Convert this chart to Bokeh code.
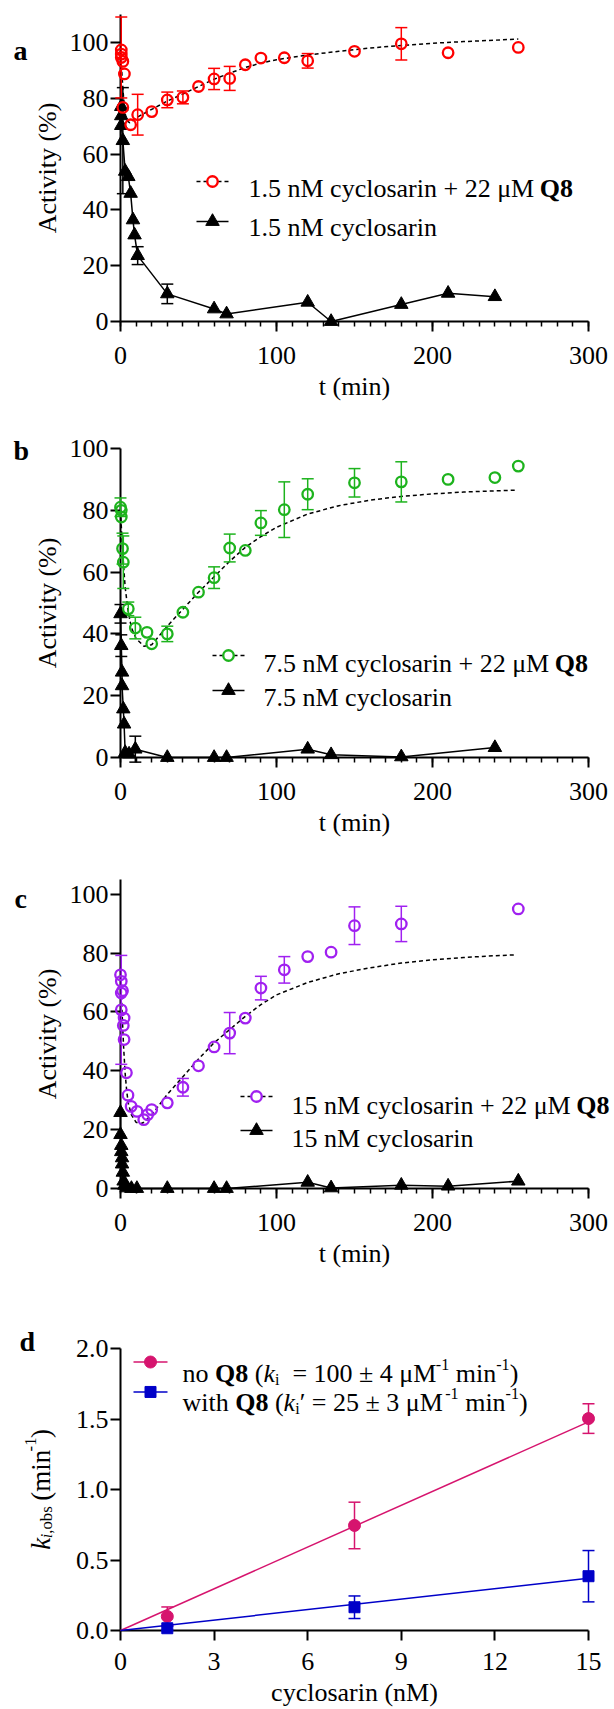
import math
from bokeh.plotting import figure
from bokeh.layouts import column
from bokeh.models import Range1d, FixedTicker, NumeralTickFormatter
from bokeh.core.properties import value
from bokeh.embed import file_html
from bokeh.resources import INLINE

FONT = "Liberation Serif"
RED, GREEN, PURPLE, PINK, BLUE = "#ff0000", "#1db31d", "#a020f0", "#d6146e", "#0000c8"

# ---------------- data: panel a (1.5 nM) ----------------
a_q8_t = [0.5, 0.5, 0.5, 1.5, 2.5, 1.5, 6.5, 11, 20, 30, 40, 50, 60, 70, 80, 90, 105, 120, 150, 180, 210, 255]
a_q8_act = [97.3, 95.8, 94.6, 93.2, 88.7, 76.7, 70.5, 74.1, 75.2, 79.4, 80.3, 84.2, 86.9, 87.1, 92.0, 94.4,
            94.5, 93.4, 96.8, 99.5, 96.3, 98.2]
a_q8_err = [0, 0, 14.5, 0, 0, 0, 0, 7.3, 0, 2.8, 2.3, 0, 3.8, 4.3, 0, 0, 0, 2.6, 0, 5.8, 0, 0]
a_cyc_t = [0.5, 0.5, 0.5, 1.5, 3, 5, 6.5, 8, 9, 11, 30, 60, 68, 120, 135, 180, 210, 240]
a_cyc_act = [77.0, 73.7, 70.2, 64.8, 53.8, 51.9, 45.9, 36.4, 31.0, 23.6, 9.9, 4.5, 2.7, 6.9, 0.0, 6.1, 10.1, 8.9]
a_cyc_err = [0, 0, 0, 19, 0, 0, 0, 0, 0, 3.2, 3.5, 0, 0, 0, 0, 0, 0, 0]
a_fit_t = [0, 1, 2, 3, 4, 6, 10, 20, 30, 40, 50, 60, 70, 80, 90, 100, 120, 140, 160, 180, 200, 220, 240, 255]
a_fit_act = [97, 88, 80, 74.5, 72, 71.2, 73, 76, 79, 81.5, 84.2, 86.8, 89, 91, 92.6, 93.8, 95.5, 96.8, 98,
             98.9, 99.7, 100.3, 100.8, 101.2]

# ---------------- data: panel b (7.5 nM) ----------------
b_q8_t = [0, 0.5, 0.5, 1.3, 1.8, 5, 9.5, 17, 20, 30, 40, 50, 60, 70, 80, 90, 105, 120, 150, 180, 210, 240, 255]
b_q8_act = [81.0, 80.0, 77.8, 67.6, 63.2, 48.1, 41.9, 40.5, 36.8, 40.0, 47.0, 53.5, 58.2, 67.8, 67.0, 75.9,
            80.2, 85.2, 88.9, 89.2, 90.0, 90.6, 94.3]
b_q8_err = [3, 0, 0, 5, 8.5, 2.2, 3.5, 0, 0, 2.5, 0, 0, 3.5, 4.5, 0, 4, 9, 5, 4.6, 6.5, 0, 0, 0]
b_cyc_t = [0, 0.5, 1, 1, 1.8, 2.3, 3, 5.5, 9.5, 30, 60, 68, 120, 135, 180, 240]
b_cyc_act = [46.5, 36.2, 27.6, 23.2, 15.7, 10.8, 1.6, 1.1, 2.7, 0, 0, 0, 2.7, 0.9, 0.2, 3.2]
b_cyc_err = [3, 3.5, 0, 0, 0, 0, 0, 0, 4.2, 0, 0, 0, 0, 0, 0, 0]
b_fit_t = [0, 1, 2, 3, 5, 7, 10, 15, 20, 25, 30, 40, 50, 60, 70, 80, 90, 100, 120, 140, 160, 180, 200, 220, 240, 253]
b_fit_act = [80, 70, 62, 55, 47, 42, 38.5, 36, 36.5, 39.5, 42.5, 48, 53.5, 58.5, 63.5, 68, 71.5, 74.5, 78.8,
             81.5, 83.3, 84.5, 85.3, 85.9, 86.3, 86.5]

# ---------------- data: panel c (15 nM) ----------------
c_q8_t = [0, 0.5, 0.5, 1.3, 0.5, 2.3, 1.8, 2.3, 3.8, 4.8, 6.8, 10.6, 14.9, 17.4, 20, 30, 40, 50, 60, 70, 80,
          90, 105, 120, 135, 150, 180, 255]
c_q8_act = [72.6, 70.4, 66.4, 67.2, 60.7, 57.9, 55.4, 50.6, 39.3, 31.7, 27.9, 26.2, 23.4, 25.1, 26.8, 29.1,
            34.4, 41.7, 48.1, 52.8, 57.9, 68.1, 74.3, 78.8, 80.3, 89.3, 89.9, 95.0]
c_q8_err = [0, 0, 0, 0, 18.5, 0, 0, 0, 0, 0, 0, 0, 0, 0, 0, 0, 3, 0, 0, 7, 0, 4, 4.5, 0, 0, 6.4, 6, 0]
c_cyc_t = [0, 0, 0.5, 0.5, 1, 1, 1.5, 2, 2.5, 4, 7, 10.5, 30, 60, 68, 120, 135, 180, 210, 255]
c_cyc_act = [25.8, 18.3, 14.6, 12.5, 10.4, 8.3, 5.5, 2.5, 1.1, 0.2, 0, 0, 0, 0, 0, 2.1, 0.2, 1.1, 0.8, 2.5]
c_cyc_err = [0] * len(c_cyc_t)
c_fit_t = [0, 1, 2, 3, 4, 5, 7, 10, 13, 15, 20, 25, 30, 40, 50, 60, 70, 80, 90, 100, 120, 140, 160, 180,
           200, 220, 240, 253]
c_fit_act = [75, 60, 48, 39, 33, 29, 25, 22.5, 22, 22.5, 25, 28.5, 32, 38, 44, 49.5, 54, 58.5, 62.5, 65.8,
             70, 73, 75, 76.6, 77.7, 78.5, 79.1, 79.4]

# ---------------- data: panel d ----------------
d_conc = [1.5, 7.5, 15]
d_no_k = [0.10, 0.745, 1.503]
d_no_err = [0.067, 0.165, 0.105]
d_q8_k = [0.016, 0.165, 0.385]
d_q8_err = [0.015, 0.08, 0.182]
d_fit_x = [0, 15]
d_fit_no = [0, 1.48]
d_fit_q8 = [0, 0.37]

# ---------------- text metrics (Times-compatible, per 1000 em) ----------------
REG = {' ': 250, '(': 333, ')': 333, '+': 564, '=': 564, '±': 564, '.': 250, ',': 250, '-': 333,
       '%': 833, '′': 333, 'μ': 500, 'a': 444, 'b': 500, 'c': 444, 'd': 500, 'e': 444, 'h': 500,
       'i': 278, 'l': 278, 'm': 778, 'n': 500, 'o': 500, 'r': 333, 's': 389, 't': 278, 'w': 722,
       'y': 500, 'M': 889, 'k': 500}
BOLD = {'Q': 778, '8': 500}
ITAL = {'k': 444, 'i': 278}
TABLES = {"normal": REG, "bold": BOLD, "italic": ITAL}


def tw(s, style, size):
    tab = TABLES[style]
    return sum(tab.get(ch, REG.get(ch, 500)) for ch in s) * size / 1000.0


def rich_width(pieces, size):
    return sum(tw(t, st, size * (0.62 if lv else 1)) for t, st, lv in pieces)


# ---------------- layout (page pixels) ----------------
W = 614
LEFT, RIGHT = 120, 26
FRAME_W = W - LEFT - RIGHT
CIRC, CIRC_LW, TRI, CAP = 10.5, 2.3, 13.5, 12


def to_data(geo, px, py):
    x0, x1 = geo["xr"]
    y0, y1 = geo["yr"]
    fb = geo["page_top"] + geo["top"] + geo["fh"]
    return (x0 + (px - LEFT) / FRAME_W * (x1 - x0),
            y0 + (fb - py) / geo["fh"] * (y1 - y0))


def put_text(p, geo, px, py, txt, style, size, angle=0):
    x, y = to_data(geo, px, py)
    p.text([x], [y], text=[txt], text_font=value(FONT), text_font_size=value(f"{size:.1f}px"),
           text_font_style=value(style), text_color="black", text_align="left",
           text_baseline="alphabetic", angle=angle, level="overlay")


def rich(p, geo, px, py, pieces, size, rotated=False):
    adv = 0.0
    for txt, style, lvl in pieces:
        fs = size * (0.62 if lvl else 1)
        off = {0: 0.0, -1: 0.22 * size, 1: -0.38 * size}[lvl]
        lead = len(txt) - len(txt.lstrip(" "))
        adv += lead * 0.25 * fs
        core = txt.strip(" ")
        if core:
            if rotated:
                put_text(p, geo, px + off, py - adv, core, style, fs, angle=math.pi / 2)
            else:
                put_text(p, geo, px + adv, py + off, core, style, fs)
            adv += tw(core, style, fs)
        trail = len(txt) - len(txt.rstrip(" "))
        adv += trail * 0.25 * fs
    return adv


def base_fig(geo, xticks, yticks, xminor=None, xlabel="", ylabel=""):
    p = figure(width=W, height=geo["h"], x_range=Range1d(*geo["xr"]), y_range=Range1d(*geo["yr"]),
               min_border_left=LEFT, min_border_right=RIGHT, min_border_top=geo["top"],
               min_border_bottom=geo["h"] - geo["top"] - geo["fh"],
               toolbar_location=None, output_backend="svg", title=None)
    p.outline_line_color = None
    p.grid.visible = False
    p.background_fill_color = "white"
    p.border_fill_color = "white"
    p.xaxis.ticker = FixedTicker(ticks=xticks, minor_ticks=xminor or [])
    p.yaxis.ticker = FixedTicker(ticks=yticks, minor_ticks=[])
    for ax in (p.xaxis[0], p.yaxis[0]):
        ax.axis_line_width = 2
        ax.axis_line_color = "black"
        ax.major_tick_line_width = 2
        ax.major_tick_line_color = "black"
        ax.minor_tick_line_width = 1.5
        ax.minor_tick_line_color = "black"
        ax.major_tick_in = 0
        ax.major_tick_out = 10
        ax.minor_tick_in = 0
        ax.minor_tick_out = 5
        ax.major_label_text_font = FONT
        ax.major_label_text_font_size = "26px"
        ax.major_label_text_color = "black"
        ax.axis_label_text_font = FONT
        ax.axis_label_text_font_size = "26px"
        ax.axis_label_text_font_style = "normal"
        ax.axis_label_text_color = "black"
    p.xaxis.major_label_standoff = 15
    p.yaxis.major_label_standoff = 2
    p.xaxis.axis_label_standoff = 5
    p.yaxis.axis_label_standoff = 5
    if xlabel:
        p.xaxis.axis_label = xlabel
    if ylabel:
        p.yaxis.axis_label = ylabel
    return p


def error_bars(p, geo, xs, ys, errs, color):
    b, u, l = [], [], []
    for xi, yi, ei in zip(xs, ys, errs):
        if ei > 0:
            b.append(xi); u.append(yi + ei); l.append(yi - ei)
    if not b:
        return
    p.segment(x0=b, y0=l, x1=b, y1=u, line_color=color, line_width=1.5, level="overlay")
    p.scatter(b + b, u + l, marker="dash", size=CAP, line_color=color, line_width=1.5, level="overlay")


def panel_letter(p, geo, letter):
    put_text(p, geo, geo["letter"][0], geo["letter"][1], letter, "bold", 28)


def kinetic_panel(geo, letter, q8_t, q8_act, q8_err, cyc_t, cyc_act, cyc_err, fit_t, fit_act,
                  color, conc_text, leg):
    p = base_fig(geo, [0, 100, 200, 300], [0, 20, 40, 60, 80, 100],
                 xminor=list(range(0, 301, 10)), xlabel="t (min)", ylabel="Activity (%)")
    p.line(fit_t, fit_act, line_color="black", line_width=1.5, line_dash="4 3", level="overlay")
    p.line(cyc_t, cyc_act, line_color="black", line_width=1.5, level="overlay")
    error_bars(p, geo, cyc_t, cyc_act, cyc_err, "black")
    error_bars(p, geo, q8_t, q8_act, q8_err, color)
    p.scatter(cyc_t, cyc_act, marker="triangle", size=TRI, fill_color="black", line_color="black",
              level="overlay")
    p.scatter(q8_t, q8_act, marker="circle", size=CIRC, fill_alpha=0, line_color=color,
              line_width=CIRC_LW, level="overlay")
    # legend keys
    (lx0, lx1, mx, y1, y2, tx, b1, b2) = leg
    xa, ya = to_data(geo, lx0, y1)
    xb, _ = to_data(geo, lx1, y1)
    xm, _ = to_data(geo, mx, y1)
    _, yb = to_data(geo, lx0, y2)
    p.line([xa, xb], [ya, ya], line_color="black", line_width=1.5, line_dash="4 3", level="overlay")
    p.scatter([xm], [ya], marker="circle", size=CIRC, fill_color="white", line_color=color,
              line_width=CIRC_LW, level="overlay")
    p.line([xa, xb], [yb, yb], line_color="black", line_width=1.5, level="overlay")
    p.scatter([xm], [yb], marker="triangle", size=TRI, fill_color="black", line_color="black",
              level="overlay")
    rich(p, geo, tx, b1, [(conc_text + " cyclosarin + 22 μM ", "normal", 0), ("Q8", "bold", 0)], 26)
    rich(p, geo, tx, b2, [(conc_text + " cyclosarin", "normal", 0)], 26)
    panel_letter(p, geo, letter)
    return p


geo_a = dict(page_top=0, h=420, top=14, fh=307, xr=(0, 300), yr=(0, 110), letter=(13, 50))
geo_b = dict(page_top=420, h=431, top=28, fh=309, xr=(0, 300), yr=(0, 100), letter=(13, 450))
geo_c = dict(page_top=851, h=439, top=28, fh=309, xr=(0, 300), yr=(0, 105), letter=(14, 898))
geo_d = dict(page_top=1290, h=419, top=58, fh=292, xr=(0, 15), yr=(0, 2.0), letter=(19, 1341))

pa = kinetic_panel(geo_a, "a", a_q8_t, a_q8_act, a_q8_err, a_cyc_t, a_cyc_act, a_cyc_err,
                   a_fit_t, a_fit_act, RED, "1.5 nM", (196, 228, 212, 181, 221, 248, 188, 227))
pb = kinetic_panel(geo_b, "b", b_q8_t, b_q8_act, b_q8_err, b_cyc_t, b_cyc_act, b_cyc_err,
                   b_fit_t, b_fit_act, GREEN, "7.5 nM", (212, 244, 228, 655, 690, 263, 663, 697))
pc = kinetic_panel(geo_c, "c", c_q8_t, c_q8_act, c_q8_err, c_cyc_t, c_cyc_act, c_cyc_err,
                   c_fit_t, c_fit_act, PURPLE, "15 nM", (240, 272, 256, 1096, 1130, 291, 1105, 1138))

# ---------------- panel d ----------------
pd_ = base_fig(geo_d, [0, 3, 6, 9, 12, 15], [0, 0.5, 1.0, 1.5, 2.0], xlabel="cyclosarin (nM)")
pd_.yaxis.formatter = NumeralTickFormatter(format="0.0")
pd_.xaxis.major_label_standoff = 12
pd_.line(d_fit_x, d_fit_no, line_color=PINK, line_width=1.5, level="overlay")
pd_.line(d_fit_x, d_fit_q8, line_color=BLUE, line_width=1.5, level="overlay")
error_bars(pd_, geo_d, d_conc, d_no_k, d_no_err, PINK)
error_bars(pd_, geo_d, d_conc, d_q8_k, d_q8_err, BLUE)
pd_.scatter(d_conc, d_no_k, marker="circle", size=12, fill_color=PINK, line_color=PINK, level="overlay")
pd_.scatter(d_conc, d_q8_k, marker="square", size=11, fill_color=BLUE, line_color=BLUE, level="overlay")
for py, col, mk, sz in ((1362, PINK, "circle", 12), (1393, BLUE, "square", 11)):
    xa, ya = to_data(geo_d, 133, py)
    xb, _ = to_data(geo_d, 167, py)
    xm, _ = to_data(geo_d, 150, py)
    pd_.line([xa, xb], [ya, ya], line_color=col, line_width=1.5, level="overlay")
    pd_.scatter([xm], [ya], marker=mk, size=sz, fill_color=col, line_color=col, level="overlay")
rich(pd_, geo_d, 182, 1374, [("no ", "normal", 0), ("Q8", "bold", 0), (" (", "normal", 0),
                             ("k", "italic", 0), ("i", "normal", -1), ("  = 100 ± 4 μM", "normal", 0),
                             ("-1", "normal", 1), (" min", "normal", 0), ("-1", "normal", 1),
                             (")", "normal", 0)], 26)
rich(pd_, geo_d, 182, 1404, [("with ", "normal", 0), ("Q8", "bold", 0), (" (", "normal", 0),
                             ("k", "italic", 0), ("i", "normal", -1), ("′ = 25 ± 3 μM", "normal", 0),
                             ("-1", "normal", 1), (" min", "normal", 0), ("-1", "normal", 1),
                             (")", "normal", 0)], 26)
ylab = [("k", "italic", 0), ("i", "italic", -1), (",obs", "normal", -1), (" (min", "normal", 0),
        ("-1", "normal", 1), (")", "normal", 0)]
L = rich_width(ylab, 27)
rich(pd_, geo_d, 40, (1348 + 1640) / 2 + L / 2, ylab, 27, rotated=True)
panel_letter(pd_, geo_d, "d")

layout = column(pa, pb, pc, pd_, spacing=0)
open("out.html", "w").write(file_html(layout, INLINE))
